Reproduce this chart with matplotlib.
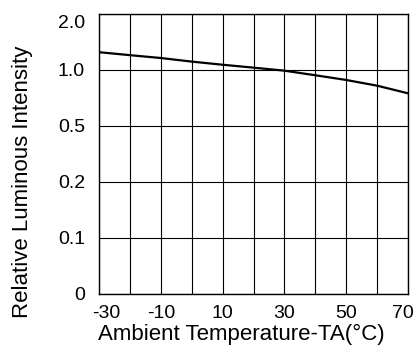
import numpy as np
import matplotlib
matplotlib.use("Agg")
import matplotlib.pyplot as plt
import matplotlib.transforms as mtransforms

# Data
temps = [-30, -20, -10, 0, 10, 20, 30, 40, 50, 60, 70]
intensity = [1.318, 1.265, 1.214, 1.150, 1.094, 1.042, 0.994, 0.953, 0.911, 0.860, 0.792]

y_tick_values = [0, 0.1, 0.2, 0.5, 1.0, 2.0]
y_tick_labels = ["0", "0.1", "0.2", "0.5", "1.0", "2.0"]
x_tick_values = [-30, -10, 10, 30, 50, 70]
x_tick_labels = ["-30", "-10", "10", "30", "50", "70"]
x_grid_values = list(range(-30, 71, 10))

plt.rcParams['font.family'] = ['Liberation Sans', 'DejaVu Sans']

ypos = np.arange(len(y_tick_values), dtype=float)

def fwd(v):
    return np.interp(v, y_tick_values, ypos)

def inv(p):
    return np.interp(p, ypos, y_tick_values)

fig = plt.figure(figsize=(4.16, 3.54), dpi=100)
ax = fig.add_axes([99/416, 1 - 294/354, (408 - 99)/416, (294 - 14)/354])
ax.set_yscale('function', functions=(fwd, inv))

ax.plot(temps, intensity, color='black', lw=1.6, zorder=3)

ax.set_xlim(-30, 70)
ax.set_ylim(0, 2.0)
ax.set_xticks(x_grid_values)
labels = dict(zip(x_tick_values, x_tick_labels))
ax.set_xticklabels([labels.get(v, "") for v in x_grid_values])
ax.set_yticks(y_tick_values)
ax.set_yticklabels(y_tick_labels)
ax.grid(True, color='black', lw=0.8)
ax.tick_params(axis='x', length=0, labelsize=14, pad=8)
ax.tick_params(axis='y', length=0, labelsize=14, pad=10)
for s in ax.spines.values():
    s.set_linewidth(1.0)
    s.set_color('black')

# nudge end labels inward as in reference
xl = ax.get_xticklabels()
xl[0].set_transform(xl[0].get_transform() + mtransforms.ScaledTranslation(7/100, 0, fig.dpi_scale_trans))
xl[-1].set_transform(xl[-1].get_transform() + mtransforms.ScaledTranslation(-5/100, 0, fig.dpi_scale_trans))
yl = ax.get_yticklabels()
yl[-1].set_transform(yl[-1].get_transform() + mtransforms.ScaledTranslation(0, -7/100, fig.dpi_scale_trans))

ax.set_xlabel("Ambient Temperature-TA(°C)", fontsize=16)
ax.set_ylabel("Relative Luminous Intensity", fontsize=16)
ax.xaxis.set_label_coords(0.462, -0.107)
ax.yaxis.set_label_coords(-0.213, 0.4)

fig.savefig("out.png", dpi=100)
